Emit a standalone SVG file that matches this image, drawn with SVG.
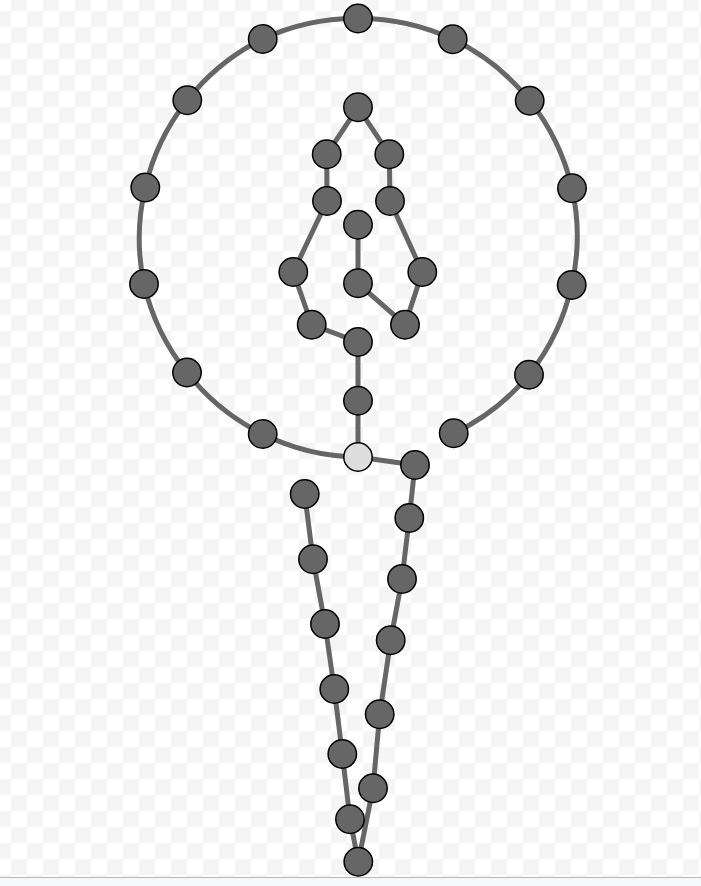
<svg xmlns="http://www.w3.org/2000/svg" width="701" height="886" viewBox="0 0 701 886">
<defs>
<pattern id="chk" patternUnits="userSpaceOnUse" x="11" y="11" width="32" height="32">
<rect width="32" height="32" fill="#ffffff"/>
<rect x="16" y="0" width="16" height="16" fill="#f5f5f5"/>
<rect x="0" y="16" width="16" height="16" fill="#f5f5f5"/>
</pattern>
<style>
.e{fill:none;stroke:#666666;stroke-width:5;stroke-linecap:round}
.n{fill:#666666;stroke:#000000;stroke-width:1.5}
.h{fill:#dddddd;stroke:#000000;stroke-width:1.5}
</style>
</defs>
<rect width="701" height="877" fill="url(#chk)"/>
<rect x="0" y="877" width="701" height="9" fill="#f7f8fa"/>
<line x1="0" y1="877.5" x2="701" y2="877.5" stroke="#b8b8b8" stroke-width="1"/>
<g id="connectors">
<path class="e" d="M358,457 A219,219 0 0 1 262.7,434"/>
<path class="e" d="M262.7,434 A219,219 0 0 1 187,372.5"/>
<path class="e" d="M187,372.5 A219,219 0 0 1 144,284"/>
<path class="e" d="M144,284 A219,219 0 0 1 145.3,187.5"/>
<path class="e" d="M145.3,187.5 A219,219 0 0 1 187.3,100.3"/>
<path class="e" d="M187.3,100.3 A219,219 0 0 1 262.7,39"/>
<path class="e" d="M262.7,39 A219,219 0 0 1 358,18.5"/>
<path class="e" d="M358,18.5 A219,219 0 0 1 452.7,39.3"/>
<path class="e" d="M452.7,39.3 A219,219 0 0 1 529.7,100.7"/>
<path class="e" d="M529.7,100.7 A219,219 0 0 1 572,188.3"/>
<path class="e" d="M572,188.3 A219,219 0 0 1 571.7,285"/>
<path class="e" d="M571.7,285 A219,219 0 0 1 529,374.7"/>
<path class="e" d="M529,374.7 A219,219 0 0 1 453.7,433.3"/>
<line class="e" x1="358" y1="107.3" x2="326.7" y2="154.3"/>
<line class="e" x1="358" y1="107.3" x2="389.3" y2="154.3"/>
<line class="e" x1="326.7" y1="154.3" x2="327" y2="201"/>
<line class="e" x1="389.3" y1="154.3" x2="390" y2="201"/>
<line class="e" x1="327" y1="201" x2="293.3" y2="272"/>
<line class="e" x1="390" y1="201" x2="422.3" y2="272"/>
<line class="e" x1="358" y1="224.7" x2="358" y2="283.3"/>
<line class="e" x1="293.3" y1="272" x2="311.7" y2="324.7"/>
<line class="e" x1="422.3" y1="272" x2="405" y2="324.7"/>
<line class="e" x1="358" y1="283.3" x2="405" y2="324.7"/>
<line class="e" x1="311.7" y1="324.7" x2="358" y2="342"/>
<line class="e" x1="358" y1="342" x2="358" y2="400.7"/>
<line class="e" x1="358" y1="400.7" x2="358" y2="457"/>
<line class="e" x1="358" y1="457" x2="415" y2="465"/>
<line class="e" x1="415" y1="465" x2="409.3" y2="518"/>
<line class="e" x1="409.3" y1="518" x2="402" y2="579"/>
<line class="e" x1="402" y1="579" x2="390.7" y2="640.3"/>
<line class="e" x1="390.7" y1="640.3" x2="379.7" y2="714.3"/>
<line class="e" x1="379.7" y1="714.3" x2="373" y2="788.3"/>
<line class="e" x1="373" y1="788.3" x2="358.3" y2="861.7"/>
<line class="e" x1="304.7" y1="494" x2="313" y2="559.3"/>
<line class="e" x1="313" y1="559.3" x2="325" y2="624"/>
<line class="e" x1="325" y1="624" x2="334.3" y2="689"/>
<line class="e" x1="334.3" y1="689" x2="342.3" y2="754"/>
<line class="e" x1="342.3" y1="754" x2="350" y2="819.3"/>
<line class="e" x1="350" y1="819.3" x2="358.3" y2="861.7"/>
</g>
<g id="n-ring-top"><circle class="n" cx="358" cy="18.5" r="14.2"/></g>
<g id="n-ring-r1"><circle class="n" cx="452.7" cy="39.3" r="14.2"/></g>
<g id="n-ring-r2"><circle class="n" cx="529.7" cy="100.7" r="14.2"/></g>
<g id="n-ring-r3"><circle class="n" cx="572" cy="188.3" r="14.2"/></g>
<g id="n-ring-r4"><circle class="n" cx="571.7" cy="285" r="14.2"/></g>
<g id="n-ring-r5"><circle class="n" cx="529" cy="374.7" r="14.2"/></g>
<g id="n-ring-r6"><circle class="n" cx="453.7" cy="433.3" r="14.2"/></g>
<g id="n-ring-l1"><circle class="n" cx="262.7" cy="39" r="14.2"/></g>
<g id="n-ring-l2"><circle class="n" cx="187.3" cy="100.3" r="14.2"/></g>
<g id="n-ring-l3"><circle class="n" cx="145.3" cy="187.5" r="14.2"/></g>
<g id="n-ring-l4"><circle class="n" cx="144" cy="284" r="14.2"/></g>
<g id="n-ring-l5"><circle class="n" cx="187" cy="372.5" r="14.2"/></g>
<g id="n-ring-l6"><circle class="n" cx="262.7" cy="434" r="14.2"/></g>
<g id="n-in-top"><circle class="n" cx="358" cy="107.3" r="14.2"/></g>
<g id="n-in-l1"><circle class="n" cx="326.7" cy="154.3" r="14.2"/></g>
<g id="n-in-r1"><circle class="n" cx="389.3" cy="154.3" r="14.2"/></g>
<g id="n-in-l2"><circle class="n" cx="327" cy="201" r="14.2"/></g>
<g id="n-in-r2"><circle class="n" cx="390" cy="201" r="14.2"/></g>
<g id="n-in-c1"><circle class="n" cx="358" cy="224.7" r="14.2"/></g>
<g id="n-in-l3"><circle class="n" cx="293.3" cy="272" r="14.2"/></g>
<g id="n-in-c2"><circle class="n" cx="358" cy="283.3" r="14.2"/></g>
<g id="n-in-r3"><circle class="n" cx="422.3" cy="272" r="14.2"/></g>
<g id="n-in-l4"><circle class="n" cx="311.7" cy="324.7" r="14.2"/></g>
<g id="n-in-r4"><circle class="n" cx="405" cy="324.7" r="14.2"/></g>
<g id="n-in-c3"><circle class="n" cx="358" cy="342" r="14.2"/></g>
<g id="n-in-c4"><circle class="n" cx="358" cy="400.7" r="14.2"/></g>
<g id="n-hub"><circle class="h" cx="358" cy="457" r="14.2"/></g>
<g id="n-rc1"><circle class="n" cx="415" cy="465" r="14.2"/></g>
<g id="n-rc2"><circle class="n" cx="409.3" cy="518" r="14.2"/></g>
<g id="n-rc3"><circle class="n" cx="402" cy="579" r="14.2"/></g>
<g id="n-rc4"><circle class="n" cx="390.7" cy="640.3" r="14.2"/></g>
<g id="n-rc5"><circle class="n" cx="379.7" cy="714.3" r="14.2"/></g>
<g id="n-rc6"><circle class="n" cx="373" cy="788.3" r="14.2"/></g>
<g id="n-lc1"><circle class="n" cx="304.7" cy="494" r="14.2"/></g>
<g id="n-lc2"><circle class="n" cx="313" cy="559.3" r="14.2"/></g>
<g id="n-lc3"><circle class="n" cx="325" cy="624" r="14.2"/></g>
<g id="n-lc4"><circle class="n" cx="334.3" cy="689" r="14.2"/></g>
<g id="n-lc5"><circle class="n" cx="342.3" cy="754" r="14.2"/></g>
<g id="n-lc6"><circle class="n" cx="350" cy="819.3" r="14.2"/></g>
<g id="n-bottom"><circle class="n" cx="358.3" cy="861.7" r="14.2"/></g>
</svg>
